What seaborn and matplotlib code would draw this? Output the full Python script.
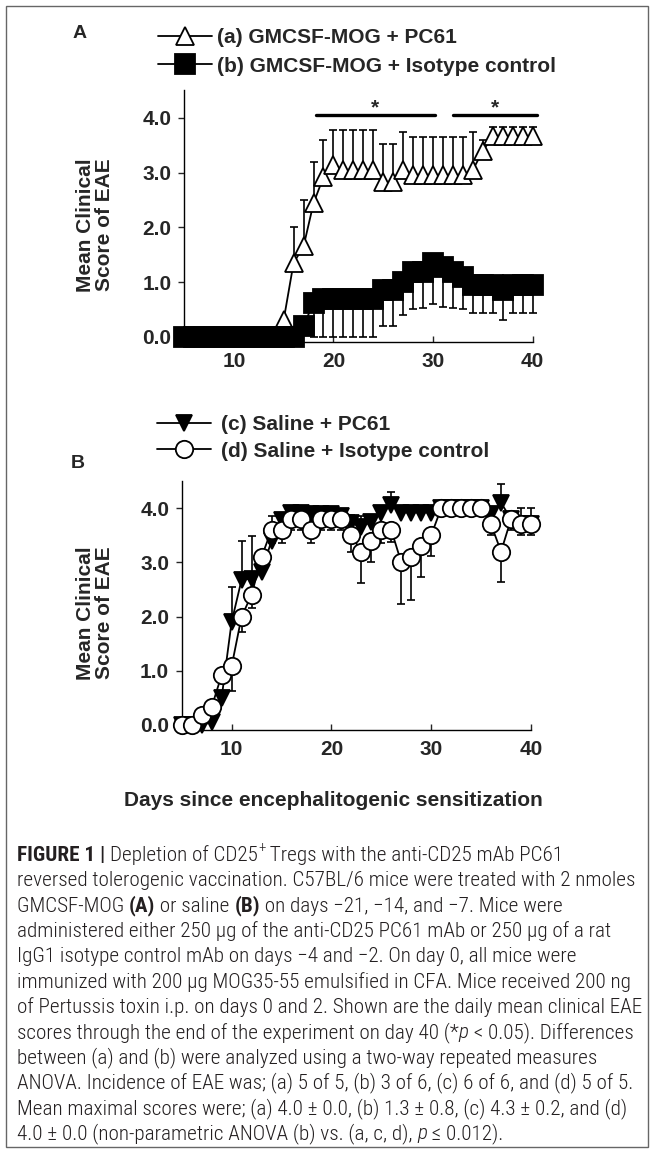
import numpy as np
import matplotlib
matplotlib.use("Agg")
import matplotlib.pyplot as plt
import seaborn as sns
from matplotlib import font_manager
from matplotlib.patches import Rectangle

# =========================
# DATA
# =========================
days = list(range(5, 41))

# (a) GMCSF-MOG + PC61  (mean, upper SEM)
a_mean = [0.0, 0.0, 0.0, 0.0, 0.0, 0.0, 0.0, 0.0, 0.0, 0.0,
          0.3, 1.35, 1.65, 2.44, 2.92, 3.13, 3.05, 3.05, 3.05, 3.05,
          2.83, 2.83, 3.05, 2.95, 2.95, 2.95, 2.95, 2.95, 2.95, 3.05,
          3.4, 3.66, 3.66, 3.66, 3.66, 3.66]
a_sem = [0, 0, 0, 0, 0, 0, 0, 0, 0, 0,
         0, 0.65, 0.85, 0.76, 0.68, 0.65, 0.72, 0.72, 0.72, 0.72,
         0.69, 0.69, 0.7, 0.7, 0.7, 0.7, 0.7, 0.7, 0.7, 0.7,
         0.2, 0.18, 0.18, 0.18, 0.18, 0.18]

# (b) GMCSF-MOG + Isotype control  (mean, lower SEM)
b_mean = [0.0, 0.0, 0.0, 0.0, 0.0, 0.0, 0.0, 0.0, 0.0, 0.0,
          0.0, 0.0, 0.2, 0.62, 0.69, 0.69, 0.69, 0.69, 0.69, 0.69,
          0.86, 0.86, 1.0, 1.18, 1.18, 1.35, 1.28, 1.18, 1.1, 0.94,
          0.94, 0.94, 0.86, 0.95, 0.95, 0.95]
b_sem = [0, 0, 0, 0, 0, 0, 0, 0, 0, 0,
         0, 0, 0, 0.62, 0.69, 0.69, 0.69, 0.69, 0.69, 0.69,
         0.66, 0.66, 0.6, 0.68, 0.66, 0.75, 0.73, 0.66, 0.6, 0.51,
         0.51, 0.51, 0.56, 0.52, 0.52, 0.52]

# (c) Saline + PC61  (mean, upper SEM)
c_mean = [0.0, 0.0, 0.0, 0.05, 0.5, 1.9, 2.68, 2.7, 2.83, 3.4,
          3.78, 3.92, 3.92, 3.9, 3.9, 3.9, 3.85, 3.72, 3.66, 3.75,
          3.92, 4.05, 3.92, 3.92, 3.92, 3.92, 4.0, 4.0, 4.0, 4.0,
          4.0, 3.9, 4.1, 3.8, 3.7, 3.7]
c_sem = [0, 0, 0, 0, 0.1, 0.65, 0.72, 0.78, 0.2, 0.45,
         0.12, 0.06, 0.06, 0.06, 0.06, 0.06, 0.1, 0.15, 0.2, 0.13,
         0.1, 0.25, 0.08, 0.08, 0.08, 0.08, 0, 0, 0, 0,
         0, 0, 0.35, 0.1, 0.3, 0.3]

# (d) Saline + Isotype control  (mean, lower SEM)
d_mean = [0.0, 0.0, 0.18, 0.33, 0.92, 1.08, 2.0, 2.4, 3.1, 3.6,
          3.6, 3.8, 3.8, 3.6, 3.8, 3.8, 3.8, 3.5, 3.2, 3.4,
          3.6, 3.6, 3.0, 3.1, 3.3, 3.5, 4.0, 4.0, 4.0, 4.0,
          4.0, 3.7, 3.2, 3.8, 3.7, 3.7]
d_sem = [0, 0, 0, 0, 0.1, 0.45, 0.28, 0.25, 0.2, 0.25,
         0.25, 0.2, 0.2, 0.25, 0.2, 0.2, 0.2, 0.3, 0.58, 0.4,
         0.25, 0.23, 0.77, 0.8, 0.57, 0.38, 0, 0, 0, 0,
         0, 0.2, 0.57, 0.2, 0.2, 0.2]

# significance bars in panel A: (start day, end day, label)
sig_bars = [(18.2, 30.2, "*"), (32.0, 40.4, "*")]

labels_A = ["(a) GMCSF-MOG + PC61", "(b) GMCSF-MOG + Isotype control"]
labels_B = ["(c) Saline + PC61", "(d) Saline + Isotype control"]
xticks = [10, 20, 30, 40]
yticks = [0, 1, 2, 3, 4]

caption = [
    [("FIGURE 1 | ", "b"), ("Depletion of CD25", "n"), ("+", "sup"),
     (" Tregs with the anti-CD25 mAb PC61", "n")],
    [("reversed tolerogenic vaccination. C57BL/6 mice were treated with 2 nmoles", "n")],
    [("GMCSF-MOG ", "n"), ("(A)", "b"), (" or saline ", "n"), ("(B)", "b"),
     (" on days \u221221, \u221214, and \u22127. Mice were", "n")],
    [("administered either 250 \u00b5g of the anti-CD25 PC61 mAb or 250 \u00b5g of a rat", "n")],
    [("IgG1 isotype control mAb on days \u22124 and \u22122. On day 0, all mice were", "n")],
    [("immunized with 200 \u00b5g MOG35-55 emulsified in CFA. Mice received 200 ng", "n")],
    [("of Pertussis toxin i.p. on days 0 and 2. Shown are the daily mean clinical EAE", "n")],
    [("scores through the end of the experiment on day 40 (*", "n"), ("p", "i"),
     (" < 0.05). Differences", "n")],
    [("between (a) and (b) were analyzed using a two-way repeated measures", "n")],
    [("ANOVA. Incidence of EAE was; (a) 5 of 5, (b) 3 of 6, (c) 6 of 6, and (d) 5 of 5.", "n")],
    [("Mean maximal scores were; (a) 4.0 \u00b1 0.0, (b) 1.3 \u00b1 0.8, (c) 4.3 \u00b1 0.2, and (d)", "n")],
    [("4.0 \u00b1 0.0 (non-parametric ANOVA (b) vs. (a, c, d), ", "n"), ("p", "i"),
     (" \u2264 0.012).", "n")],
]

# =========================
# STYLE
# =========================
sns.set_style("ticks")
plt.rcParams["font.family"] = ["Liberation Sans", "DejaVu Sans"]
plt.rcParams["font.weight"] = "bold"
plt.rcParams["axes.linewidth"] = 1.0
plt.rcParams["axes.edgecolor"] = "black"

W, H = 654, 1153
fig = plt.figure(figsize=(W / 100, H / 100), dpi=100)
fig.patch.set_facecolor("white")


def px_axes(left, top, right, bottom):
    return fig.add_axes([left / W, 1 - bottom / H, (right - left) / W, (bottom - top) / H])


def err_bars(ax, mean, sem, up, z):
    x = np.array(days, dtype=float)
    m = np.array(mean)
    s = np.array(sem)
    keep = s > 0
    zero = np.zeros(keep.sum())
    yerr = [zero, s[keep]] if up else [s[keep], zero]
    ax.errorbar(x[keep], m[keep], yerr=yerr, fmt="none", ecolor="black",
                elinewidth=1.2, capsize=3.2, capthick=1.2, zorder=z, clip_on=False)


def series(ax, mean, marker, face, ms, label, z):
    sns.lineplot(x=days, y=mean, ax=ax, color="black", linewidth=1.3,
                 marker=marker, markersize=ms, markerfacecolor=face,
                 markeredgecolor="black", markeredgewidth=1.3,
                 errorbar=None, label=label, zorder=z, clip_on=False)
    return ax.lines[-1]


def style_axes(ax):
    ax.set_xlim(5, 40)
    ax.set_ylim(-0.1, 4.5)
    ax.set_xticks(xticks)
    ax.set_yticks(yticks)
    ax.set_yticklabels([f"{v:.1f}" for v in yticks])
    ax.tick_params(axis="x", direction="in", length=4, width=1, labelsize=15, pad=7)
    ax.tick_params(axis="y", direction="out", length=4, width=1, labelsize=15, pad=5)
    for lab in ax.get_xticklabels() + ax.get_yticklabels():
        lab.set_fontweight("bold")
        lab.set_family(["Liberation Sans", "DejaVu Sans"])
    ax.set_xlabel("")
    ax.set_ylabel("")
    sns.despine(ax=ax)


# =========================
# PANEL A
# =========================
axA = px_axes(184, 90.5, 532.7, 342.2)
err_bars(axA, a_mean, a_sem, True, 2)
hA1 = series(axA, a_mean, "^", "white", 13.5, labels_A[0], 3)
err_bars(axA, b_mean, b_sem, False, 4)
hA2 = series(axA, b_mean, "s", "black", 14, labels_A[1], 5)
style_axes(axA)

for x0, x1, star in sig_bars:
    axA.plot([x0, x1], [4.05, 4.05], color="black", linewidth=2.4, clip_on=False)
    axA.text((x0 + x1) / 2, 4.09, star, ha="center", va="baseline",
             fontsize=15, fontweight="bold")

axA.legend(handles=[hA1, hA2], labels=labels_A, loc="center left",
           bbox_to_anchor=(158 / W, 1 - 52 / H), bbox_transform=fig.transFigure,
           frameon=False, borderpad=0, borderaxespad=0, handlelength=2.6,
           handletextpad=0.25, labelspacing=0.45,
           prop={"size": 15, "weight": "bold", "family": ["Liberation Sans", "DejaVu Sans"]})

# =========================
# PANEL B
# =========================
axB = px_axes(181.7, 481.1, 531, 730.4)
err_bars(axB, c_mean, c_sem, True, 2)
hB1 = series(axB, c_mean, "v", "black", 12, labels_B[0], 3)
err_bars(axB, d_mean, d_sem, False, 4)
hB2 = series(axB, d_mean, "o", "white", 12.5, labels_B[1], 5)
style_axes(axB)

axB.legend(handles=[hB1, hB2], labels=labels_B, loc="center left",
           bbox_to_anchor=(157 / W, 1 - 438 / H), bbox_transform=fig.transFigure,
           frameon=False, borderpad=0, borderaxespad=0, handlelength=2.6,
           handletextpad=0.45, labelspacing=0.35,
           prop={"size": 15, "weight": "bold", "family": ["Liberation Sans", "DejaVu Sans"]})

# axis titles / panel letters
for ycen in (225, 613):
    fig.text(95 / W, 1 - ycen / H, "Mean Clinical\nScore of EAE", rotation=90,
             ha="center", va="center", fontsize=15, fontweight="bold",
             linespacing=1.05, multialignment="center")
fig.text(80 / W, 1 - 33 / H, "A", ha="center", va="center", fontsize=14, fontweight="bold")
fig.text(78 / W, 1 - 463 / H, "B", ha="center", va="center", fontsize=14, fontweight="bold")
fig.text(333 / W, 1 - 800 / H, "Days since encephalitogenic sensitization",
         ha="center", va="center", fontsize=15, fontweight="bold")

# =========================
# CAPTION
# =========================
# the journal caption is set in a light condensed sans; use one if the system has it
faces = font_manager.fontManager.ttflist
cap_font, cap_stretch = "Liberation Sans", "normal"
for want in ["Liberation Sans Narrow", "Roboto Condensed", "Open Sans Condensed",
             "Noto Sans Condensed", "Noto Sans", "DejaVu Sans Condensed"]:
    hit = [f for f in faces if f.name == want and f.style == "normal"
           and ("Narrow" in want or "Condensed" in want
                or f.stretch in ("condensed", "semi-condensed", "extra-condensed"))]
    if hit:
        cap_font, cap_stretch = want, hit[0].stretch
        break
has_light = any(f.name == cap_font and f.weight in (300, "light") for f in faces)
cap_family = [cap_font, "DejaVu Sans"]
renderer = fig.canvas.get_renderer()
body_w = 300 if has_light else "normal"
STY = {"n": {"fontweight": body_w},
       "b": {"fontweight": "bold"},
       "i": {"fontweight": body_w, "fontstyle": "italic"},
       "sup": {"fontweight": body_w}}


def text_w(s, size, kind):
    t = fig.text(0, 0, "|" + s + "|", fontsize=size, family=cap_family,
                 fontstretch=cap_stretch, **STY[kind])
    w1 = t.get_window_extent(renderer).width
    t.set_text("||")
    w2 = t.get_window_extent(renderer).width
    t.remove()
    return w1 - w2


# scale the caption so the longest line fills the box like in the reference
probe = caption[6][0][0]
cap_size = min(15.5, 10 * 624 / text_w(probe, 10, "n"))

for i, line in enumerate(caption):
    x = 17
    base = 861 + i * 25.3
    for s, kind in line:
        size = cap_size * (0.7 if kind == "sup" else 1)
        dy = -0.45 * cap_size * 1.389 if kind == "sup" else 0
        fig.text(x / W, 1 - (base + dy) / H, s, fontsize=size, family=cap_family,
                 fontstretch=cap_stretch, color="#231f20", va="baseline", ha="left",
                 **STY[kind])
        x += text_w(s, size, kind)

# outer frame
fig.add_artist(Rectangle((6 / W, 1 - 1147 / H), 642 / W, 1141 / H,
                         transform=fig.transFigure, fill=False,
                         edgecolor="#666666", linewidth=1.0))

fig.savefig("out.png", dpi=100)
